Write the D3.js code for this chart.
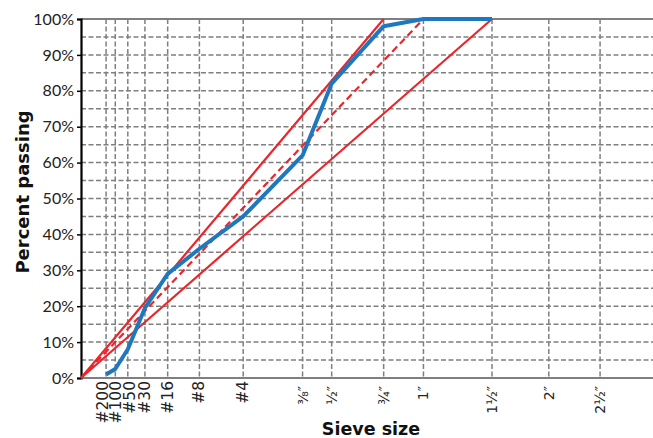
<!DOCTYPE html>
<html>
<head>
<meta charset="utf-8">
<script src="https://cdn.jsdelivr.net/npm/d3@7"></script>
<style>
  html, body { margin: 0; padding: 0; background: #fff; }
  svg { display: block; font-family: Lato, "Open Sans", sans-serif; }
</style>
</head>
<body>
<svg id="chart" width="653" height="438"></svg>
<script>
// Sieve sizes (mm) and their labels
const sieveLabels = ["#200", "#100", "#50", "#30", "#16", "#8", "#4", "⅜″", "½″", "¾″", "1″", "1½″", "2″", "2½″"];
const sieveSizes  = [0.075, 0.15, 0.3, 0.6, 1.18, 2.36, 4.75, 9.5, 12.5, 19, 25, 37.5, 50, 63];
const fractionLabel = [false, false, false, false, false, false, false, true, true, true, true, true, true, true];

// Measured gradation (percent passing)
const gradSizes   = [0.075, 0.15, 0.3, 0.6, 1.18, 2.36, 4.75, 9.5, 12.5, 19, 25, 37.5];
const gradPassing = [1, 2.5, 8, 19.5, 29, 36, 45, 62, 82, 98, 100, 100];

// Maximum density lines (from origin to 100% at a given size)
const upperLineSize = 19;    // 3/4"
const dashedLineSize = 25;   // 1"
const lowerLineSize = 37.5;  // 1 1/2"

const yTicks = [0, 10, 20, 30, 40, 50, 60, 70, 80, 90, 100];
const yGrid  = [5, 10, 15, 20, 25, 30, 35, 40, 45, 50, 55, 60, 65, 70, 75, 80, 85, 90, 95];

const svg = d3.select("#chart");
const plotLeft = 81, plotRight = 653, plotTop = 19, plotBottom = 378;

// 0.45 power chart
const pw = d => Math.pow(d, 0.45);
const x = d3.scaleLinear().domain([0, 7.11]).range([plotLeft, plotRight]);
const y = d3.scaleLinear().domain([0, 100]).range([plotBottom, plotTop]);
const X = d => x(pw(d));

const gridColor = "#7f7f7f";

// horizontal grid
svg.append("g").selectAll("line").data(yGrid).join("line")
  .attr("x1", plotLeft).attr("x2", plotRight)
  .attr("y1", d => y(d)).attr("y2", d => y(d))
  .attr("stroke", gridColor).attr("stroke-width", 1.5)
  .attr("stroke-dasharray", "5,2.5");

// vertical grid
svg.append("g").selectAll("line").data(sieveSizes).join("line")
  .attr("x1", d => X(d)).attr("x2", d => X(d))
  .attr("y1", plotTop).attr("y2", plotBottom)
  .attr("stroke", gridColor).attr("stroke-width", 1.5)
  .attr("stroke-dasharray", "5,2.5");

// top border and bottom axis
svg.append("line").attr("x1", plotLeft).attr("x2", plotRight)
  .attr("y1", y(100)).attr("y2", y(100))
  .attr("stroke", gridColor).attr("stroke-width", 2);
svg.append("line").attr("x1", plotLeft).attr("x2", plotRight)
  .attr("y1", y(0)).attr("y2", y(0))
  .attr("stroke", gridColor).attr("stroke-width", 2);

// left axis
const yAxis = d3.axisLeft(y).tickValues(yTicks).tickFormat(d => d + "%").tickSize(4).tickPadding(3);
const gy = svg.append("g").attr("transform", `translate(${plotLeft},0)`).call(yAxis);
gy.select(".domain").attr("stroke", "#000").attr("stroke-width", 2.2);
gy.selectAll(".tick line").attr("stroke", "#000").attr("stroke-width", 1.5);
gy.selectAll(".tick text").attr("font-size", 16).attr("fill", "#222")
  .attr("font-family", "Lato, sans-serif");

// x tick label baselines: start just right of each sieve line,
// then spread crowded ones so the rotated labels don't collide
const minGap = 13.5;
const labelPos = sieveSizes.map(d => X(d) + 5);
for (let iter = 0; iter < 50; iter++) {
  let moved = false;
  for (let i = 1; i < labelPos.length; i++) {
    const gap = labelPos[i] - labelPos[i - 1];
    if (gap < minGap - 0.01) {
      const push = (minGap - gap) / 2;
      labelPos[i - 1] -= push;
      labelPos[i] += push;
      moved = true;
    }
  }
  if (!moved) break;
}

const gx = svg.append("g").attr("font-family", "'DejaVu Sans', sans-serif");
gx.selectAll("text").data(sieveSizes).join("text")
  .attr("transform", (d, i) => `translate(${labelPos[i]},${plotBottom + (fractionLabel[i] ? 8 : 3)}) rotate(-90)`)
  .attr("text-anchor", "end")
  .attr("font-size", (d, i) => fractionLabel[i] ? 14 : 15.5)
  .attr("fill", "#222")
  .text((d, i) => sieveLabels[i]);

// maximum density lines
const redColor = "#e8262b";
function densityLine(size, dashed) {
  svg.append("line")
    .attr("x1", x(0)).attr("y1", y(0))
    .attr("x2", X(size)).attr("y2", y(100))
    .attr("stroke", redColor).attr("stroke-width", 2.2)
    .attr("stroke-dasharray", dashed ? "7,4" : null);
}
densityLine(upperLineSize, false);
densityLine(lowerLineSize, false);
densityLine(dashedLineSize, true);

// gradation curve
const gradData = gradSizes.map((s, i) => [s, gradPassing[i]]);
svg.append("path").datum(gradData)
  .attr("fill", "none").attr("stroke", "#1f78be").attr("stroke-width", 4)
  .attr("stroke-linejoin", "round")
  .attr("d", d3.line().x(d => X(d[0])).y(d => y(d[1])));

// axis titles
svg.append("text")
  .attr("x", 371).attr("y", 435)
  .attr("text-anchor", "middle").attr("font-weight", "bold").attr("font-size", 17.5)
  .attr("font-family", "'DejaVu Sans', sans-serif")
  .attr("fill", "#111").text("Sieve size");
svg.append("text")
  .attr("transform", `translate(29,192) rotate(-90)`)
  .attr("text-anchor", "middle").attr("font-weight", "bold").attr("font-size", 18)
  .attr("font-family", "'DejaVu Sans', sans-serif")
  .attr("fill", "#111").text("Percent passing");
</script>
</body>
</html>
